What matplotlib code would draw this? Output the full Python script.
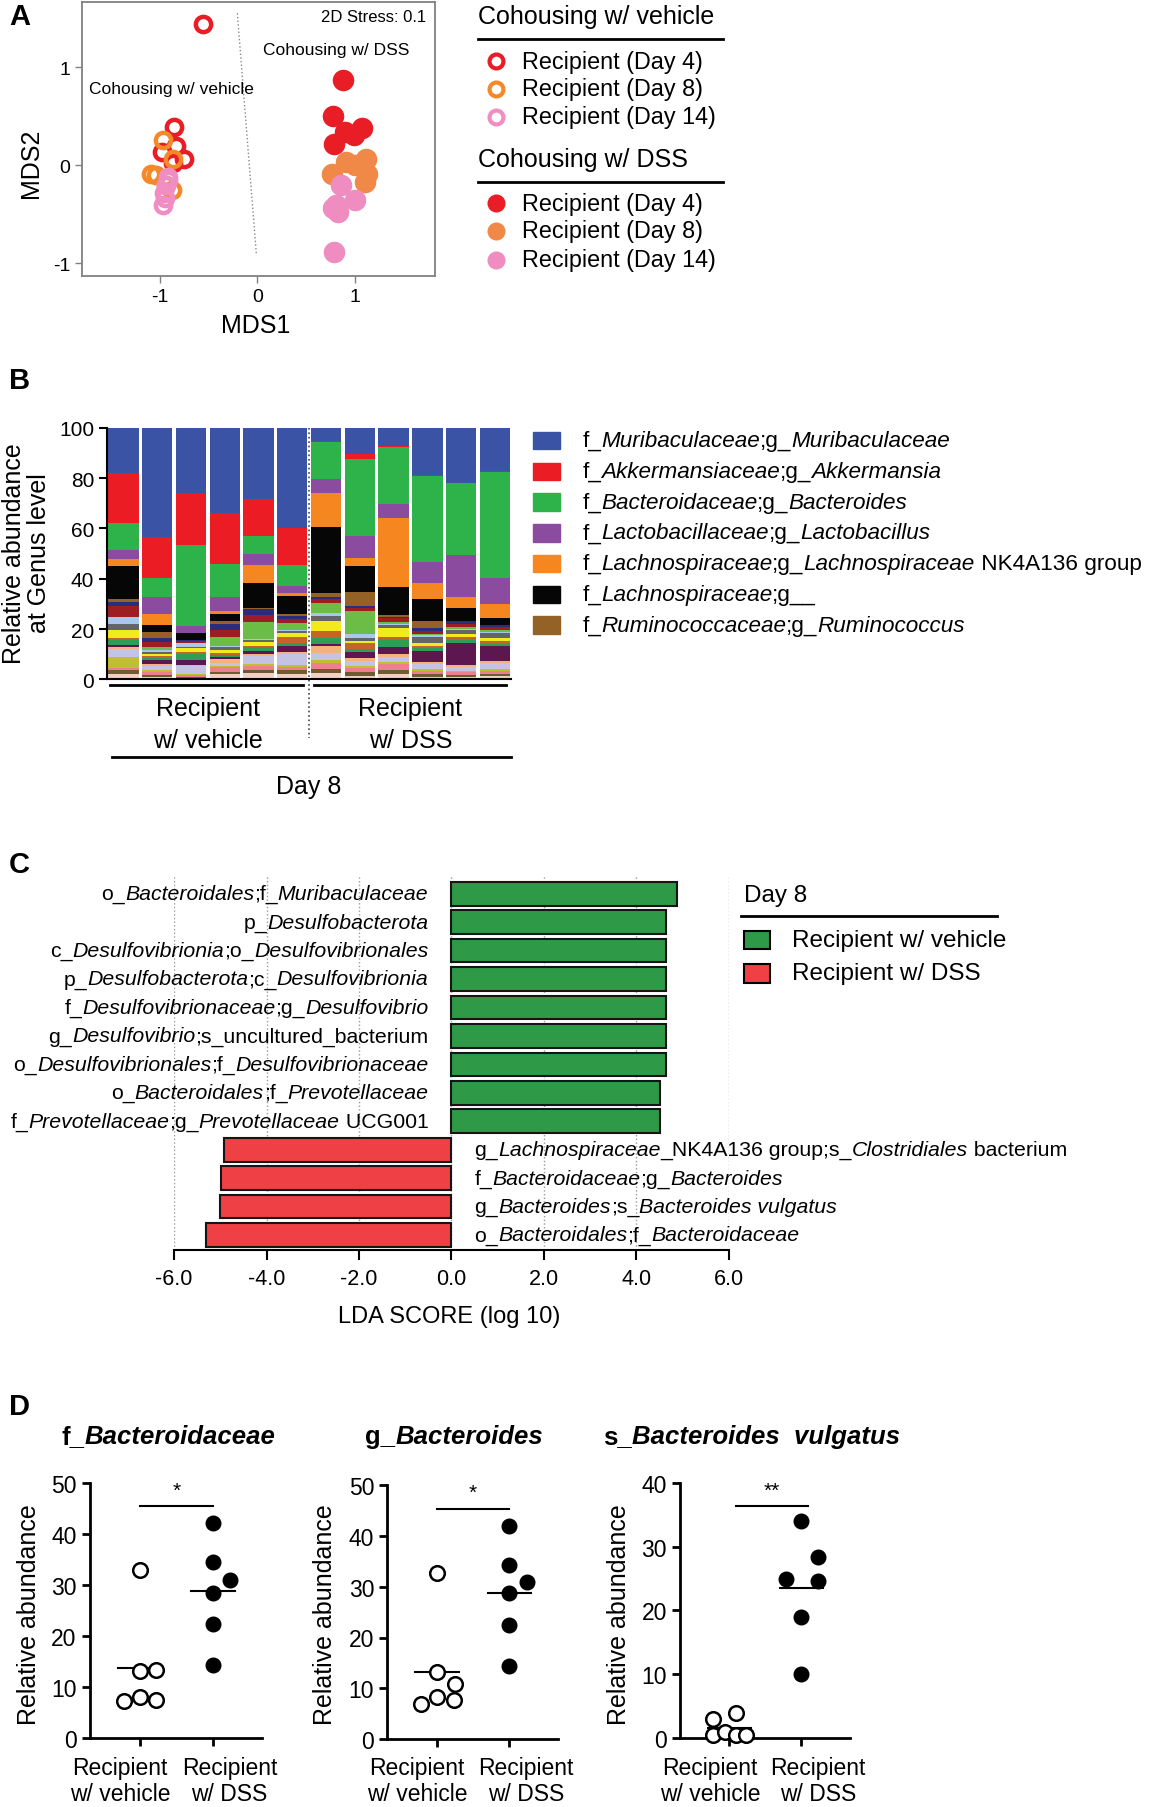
import numpy as np
import matplotlib
matplotlib.use('Agg')
import matplotlib.pyplot as plt
from matplotlib.lines import Line2D
from matplotlib.patches import Rectangle
from matplotlib.offsetbox import TextArea, HPacker, AnnotationBbox

plt.rcParams['font.family'] = ['Liberation Sans', 'DejaVu Sans']
plt.rcParams['axes.unicode_minus'] = False

# ---------------- panel A: NMDS ----------------
veh_d4_x = [-0.56, -0.85, -0.83, -0.98, -0.75, -0.86]
veh_d4_y = [1.44, 0.39, 0.19, 0.13, 0.06, 0.02]
veh_d8_x = [-0.97, -0.86, -1.09, -0.88, -0.94, -1.04]
veh_d8_y = [0.26, 0.06, -0.09, -0.25, -0.20, -0.10]
veh_d14_x = [-0.92, -0.94, -0.96, -0.95, -0.97, -0.92]
veh_d14_y = [-0.15, -0.20, -0.29, -0.34, -0.41, -0.12]
dss_d4_x = [0.88, 0.78, 0.90, 1.07, 0.79, 0.99]
dss_d4_y = [0.87, 0.50, 0.34, 0.38, 0.22, 0.31]
dss_d8_x = [0.91, 1.12, 0.77, 1.13, 1.10, 1.00]
dss_d8_y = [0.03, 0.06, -0.09, -0.09, -0.17, 0.00]
dss_d14_x = [0.86, 1.00, 0.78, 0.83, 0.79, 0.81]
dss_d14_y = [-0.20, -0.36, -0.44, -0.48, -0.89, -0.41]
day_labels = ['Recipient (Day 4)', 'Recipient (Day 8)', 'Recipient (Day 14)']

# ---------------- panel B: genus composition ----------------
legend_taxa = ['f_*Muribaculaceae*;g_*Muribaculaceae*',
               'f_*Akkermansiaceae*;g_*Akkermansia*',
               'f_*Bacteroidaceae*;g_*Bacteroides*',
               'f_*Lactobacillaceae*;g_*Lactobacillus*',
               'f_*Lachnospiraceae*;g_*Lachnospiraceae* NK4A136 group',
               'f_*Lachnospiraceae*;g__',
               'f_*Ruminococcaceae*;g_*Ruminococcus*']
muri = [18.1, 43.5, 26.0, 34.0, 28.1, 40.0, 5.0, 10.3, 7.3, 18.7, 22.0, 17.2]
akk = [19.8, 16.1, 20.4, 20.1, 15.0, 14.5, 0.7, 2.0, 0.4, 0.3, 0.0, 0.3]
bact = [10.6, 7.7, 32.5, 13.2, 7.0, 8.4, 14.7, 30.8, 22.6, 34.2, 28.5, 42.1]
lacto = [3.6, 6.8, 2.6, 5.5, 4.4, 2.7, 5.6, 8.6, 5.6, 8.4, 16.8, 10.3]
nk4a136 = [3.0, 4.4, 0.0, 1.3, 7.2, 1.4, 13.3, 3.4, 27.2, 6.6, 4.2, 5.6]
lachno = [12.8, 2.6, 2.7, 2.7, 9.8, 7.1, 26.3, 10.2, 11.4, 8.6, 5.3, 3.0]
rumino = [1.4, 2.4, 0.0, 1.3, 0.7, 0.7, 1.7, 5.5, 0.7, 2.8, 0.2, 0.0]
# remaining low-abundance genera, listed top to bottom
minor = [
    [1.6, 1.6, 0.5, 2.4, 2.1, 1.3, 0.9, 1.0, 0.5, 1.0, 0.9, 0.6],
    [4.4, 2.1, 0.8, 2.6, 2.8, 1.5, 1.4, 0.9, 1.6, 1.3, 1.3, 1.3],
    [0.0, 1.0, 0.0, 3.5, 6.8, 2.6, 3.9, 9.2, 0.6, 0.6, 0.8, 0.6],
    [2.6, 1.0, 1.5, 0.5, 0.6, 0.6, 1.3, 1.6, 0.5, 0.6, 0.4, 0.5],
    [2.4, 0.8, 0.6, 1.3, 0.8, 0.8, 2.2, 1.4, 1.0, 2.4, 1.7, 2.0],
    [3.4, 0.9, 1.6, 1.0, 1.4, 1.5, 3.9, 0.6, 3.9, 1.3, 1.0, 1.3],
    [0.8, 0.6, 0.8, 0.8, 0.6, 2.6, 2.6, 2.6, 1.0, 0.8, 1.3, 1.0],
    [2.0, 0.8, 2.2, 0.8, 1.5, 1.2, 2.4, 0.9, 3.0, 1.0, 1.0, 0.8],
    [0.8, 1.6, 2.0, 1.0, 1.2, 2.4, 1.0, 2.6, 2.6, 4.6, 9.0, 6.0],
    [0.5, 0.9, 0.6, 1.6, 0.7, 0.7, 2.5, 1.0, 1.2, 0.8, 0.6, 0.8],
    [3.5, 1.6, 3.0, 1.2, 3.4, 4.2, 2.8, 2.0, 2.0, 2.0, 1.6, 2.6],
    [4.2, 0.8, 0.3, 0.4, 0.8, 0.8, 1.4, 1.0, 1.0, 0.8, 0.6, 0.6],
    [0.8, 1.0, 0.8, 2.0, 1.5, 1.4, 2.4, 1.6, 2.0, 1.2, 1.0, 1.2],
    [1.5, 0.8, 0.6, 0.8, 1.2, 1.4, 1.5, 1.4, 1.6, 1.0, 0.8, 1.0],
    [2.2, 1.0, 0.5, 2.0, 2.4, 2.2, 2.5, 1.4, 2.3, 1.0, 1.0, 1.2],
]

# ---------------- panel C: LEfSe ----------------
lda_veh_labels = ['o_*Bacteroidales*;f_*Muribaculaceae*',
                  'p_*Desulfobacterota*',
                  'c_*Desulfovibrionia*;o_*Desulfovibrionales*',
                  'p_*Desulfobacterota*;c_*Desulfovibrionia*',
                  'f_*Desulfovibrionaceae*;g_*Desulfovibrio*',
                  'g_*Desulfovibrio*;s_uncultured_bacterium',
                  'o_*Desulfovibrionales*;f_*Desulfovibrionaceae*',
                  'o_*Bacteroidales*;f_*Prevotellaceae*',
                  'f_*Prevotellaceae*;g_*Prevotellaceae* UCG001']
lda_veh = [4.88, 4.64, 4.64, 4.64, 4.64, 4.64, 4.64, 4.52, 4.52]
lda_dss_labels = ['g_*Lachnospiraceae*_NK4A136 group;s_*Clostridiales* bacterium',
                  'f_*Bacteroidaceae*;g_*Bacteroides*',
                  'g_*Bacteroides*;s_*Bacteroides vulgatus*',
                  'o_*Bacteroidales*;f_*Bacteroidaceae*']
lda_dss = [-4.93, -4.99, -5.01, -5.30]

# ---------------- panel D: relative abundance ----------------
d_titles = ['f_*Bacteroidaceae*', 'g_*Bacteroides*', 's_*Bacteroides  vulgatus*']
d_veh = [[32.9, 13.2, 13.4, 7.2, 8.1, 7.5],
         [32.7, 13.2, 10.8, 8.3, 6.9, 7.6],
         [3.9, 3.0, 0.4, 0.9, 0.5, 0.4]]
d_dss = [[42.2, 34.4, 30.9, 28.4, 22.3, 14.3],
         [42.0, 34.3, 31.0, 28.7, 22.5, 14.3],
         [34.1, 28.4, 24.9, 24.6, 18.9, 10.0]]
d_sig = ['*', '*', '**']
d_ymax = [50, 50, 40]
groups = ['Recipient\nw/ vehicle', 'Recipient\nw/ DSS']

# swarm offsets (layout only)
veh_off = [[0, 0, 0.23, -0.22, 0, 0.23],
           [0, 0, 0.25, 0, -0.22, 0.24],
           [0.09, -0.22, -0.22, -0.06, 0.09, 0.23]]
dss_off = [[0, 0, 0.23, 0, 0, 0],
           [0, 0, 0.24, 0, 0, 0],
           [0, 0.23, -0.22, 0.23, 0, 0]]

W, H = 1000.0, 1568.0


def rect(l, t, r, b):
    return [l / W, 1 - b / H, (r - l) / W, (b - t) / H]


def fx(x):
    return x / W


def fy(y):
    return 1 - y / H


def rich(ax, x, y, s, size, ha='left', bold=False, coords='data'):
    kids = []
    for k, p in enumerate(s.split('*')):
        if not p:
            continue
        props = dict(fontsize=size, color='black',
                     fontstyle='italic' if k % 2 else 'normal',
                     fontweight='bold' if bold else 'normal')
        kids.append(TextArea(p, textprops=props))
    box = HPacker(children=kids, align='baseline', pad=0, sep=0)
    bx = {'left': 0.0, 'center': 0.5, 'right': 1.0}[ha]
    ab = AnnotationBbox(box, (x, y), xycoords=coords, box_alignment=(bx, 0.5),
                        frameon=False, pad=0, annotation_clip=False)
    ax.add_artist(ab)


def fline(x0, x1, y, lw=2.0):
    fig.add_artist(Line2D([fx(x0), fx(x1)], [fy(y), fy(y)], color='black',
                          lw=lw, transform=fig.transFigure))


fig = plt.figure(figsize=(11.53, 18.08), dpi=100)

for lab, yy in zip('ABCD', [15, 330, 750, 1220]):
    fig.text(fx(8), fy(yy), lab, fontsize=21, fontweight='bold', ha='left', va='center')

# ---- A ----
axA = fig.add_axes(rect(71, 3, 377, 240))
cols_open = ['#E91D25', '#F5892A', '#F08DC3']
cols_fill = ['#E91D25', '#F08848', '#EF8CC0']
axA.plot([-0.205, -0.01], [1.55, -0.905], ls=':', color='#888888', lw=1)
for xs, ys, c in zip([veh_d4_x, veh_d8_x, veh_d14_x], [veh_d4_y, veh_d8_y, veh_d14_y], cols_open):
    axA.plot(xs, ys, 'o', ls='none', ms=11, mfc='none', mec=c, mew=3.2)
for xs, ys, c in zip([dss_d4_x, dss_d8_x, dss_d14_x], [dss_d4_y, dss_d8_y, dss_d14_y], cols_fill):
    axA.plot(xs, ys, 'o', ls='none', ms=15.5, color=c, mew=0)
axA.set_xlim(-1.8, 1.82)
axA.set_ylim(-1.13, 1.66)
axA.set_xticks([-1, 0, 1])
axA.set_yticks([-1, 0, 1])
for sp in axA.spines.values():
    sp.set_color('#808080')
    sp.set_linewidth(1.3)
axA.tick_params(length=5, width=1, color='#808080', labelsize=14)
axA.text(0.977, 0.95, '2D Stress: 0.1', transform=axA.transAxes, ha='right', va='center', fontsize=12)
axA.text(0.722, 0.827, 'Cohousing w/ DSS', transform=axA.transAxes, ha='center', va='center', fontsize=12.5)
axA.text(0.255, 0.684, 'Cohousing w/ vehicle', transform=axA.transAxes, ha='center', va='center', fontsize=12.5)
fig.text(fx(222), fy(283), 'MDS1', fontsize=18, ha='center', va='center')
fig.text(fx(27), fy(142), 'MDS2', fontsize=18, ha='center', va='center', rotation=90)

# legend A
for hdr_y, ys, filled in [(15, [54, 78, 102], False), (139, [177, 201, 226], True)]:
    fig.text(fx(415), fy(hdr_y), 'Cohousing w/ vehicle' if not filled else 'Cohousing w/ DSS',
             fontsize=18, ha='left', va='center')
    fline(415, 627, hdr_y + 20)
    for k, yy in enumerate(ys):
        if filled:
            m = Line2D([fx(430)], [fy(yy)], marker='o', ms=13, color=cols_fill[k], mew=0,
                       transform=fig.transFigure)
        else:
            m = Line2D([fx(430)], [fy(yy)], marker='o', ms=10, mfc='none', mec=cols_open[k],
                       mew=3, transform=fig.transFigure)
        fig.add_artist(m)
        fig.text(fx(453), fy(yy), day_labels[k], fontsize=16.8, ha='left', va='center')

# ---- B ----
axB = fig.add_axes(rect(93, 372, 443, 590))
main_cols = ['#3A53A4', '#EC1C24', '#2EB34A', '#8B4B9E', '#F6861F', '#060606', '#946227']
minor_cols = ['#2A2C7E', '#9C1E24', '#6CBD45', '#A8C7EA', '#646567', '#F2EA1B', '#C5632C',
              '#2E9D55', '#5C1650', '#F4B27F', '#C5C3E3', '#BFBF2F', '#EE7F8F', '#6E5B2F', '#F3CFC6']
xb = np.arange(len(muri))
bottom = np.zeros(len(muri))
for vals, c in zip(minor[::-1], minor_cols[::-1]):
    axB.bar(xb, vals, 0.9, bottom=bottom, color=c, lw=0)
    bottom += np.array(vals)
for vals, c in zip([rumino, lachno, nk4a136, lacto, bact, akk, muri], main_cols[::-1]):
    axB.bar(xb, vals, 0.9, bottom=bottom, color=c, lw=0)
    bottom += np.array(vals)
axB.set_xlim(-0.48, 11.47)
axB.set_ylim(0, 100)
axB.set_yticks([0, 20, 40, 60, 80, 100])
axB.set_xticks([])
for s in ['top', 'right']:
    axB.spines[s].set_visible(False)
axB.spines['left'].set_linewidth(1.5)
axB.spines['bottom'].set_linewidth(1.5)
axB.tick_params(axis='y', length=6, width=1.5, labelsize=15)
axB.plot([5.5, 5.5], [100, -23.4], ls=':', color='#444444', lw=1.2, clip_on=False)
axB.plot([-0.41, 5.31], [-2.2, -2.2], color='black', lw=2, clip_on=False)
axB.plot([5.64, 11.34], [-2.2, -2.2], color='black', lw=2, clip_on=False)
axB.plot([-0.35, 11.47], [-30.9, -30.9], color='black', lw=2, clip_on=False)
for cx, g in zip([2.5, 8.5], groups):
    l1, l2 = g.split('\n')
    axB.text(cx, -11.5, l1, ha='center', va='center', fontsize=18, clip_on=False)
    axB.text(cx, -24.0, l2, ha='center', va='center', fontsize=18, clip_on=False)
axB.text(5.5, -42.5, 'Day 8', ha='center', va='center', fontsize=18, clip_on=False)
fig.text(fx(23), fy(480), 'Relative abundance\nat Genus level', fontsize=18, ha='center',
         va='center', rotation=90, linespacing=1.05)
for k, (name, c) in enumerate(zip(legend_taxa, main_cols)):
    yy = 383 + k * 26.67
    fig.add_artist(Rectangle((fx(462), fy(yy + 7.5)), (486 - 462) / W, 15 / H, color=c,
                             transform=fig.transFigure))
    rich(axB, fx(505), fy(yy), name, 16.2, ha='left', coords='figure fraction')

# ---- C ----
axC = fig.add_axes(rect(151, 760, 632, 1085))
for gx in range(-6, 7, 2):
    axC.axvline(gx, color='#9a9a9a', ls=':', lw=1, zorder=0)
yv = np.arange(len(lda_veh))
yd = np.arange(len(lda_veh), len(lda_veh) + len(lda_dss))
axC.barh(yv, lda_veh, height=0.83, color='#2E9A48', edgecolor='#151515', lw=1.5, zorder=2)
axC.barh(yd, lda_dss, height=0.83, color='#EF4045', edgecolor='#151515', lw=1.5, zorder=2)
for y, s in zip(yv, lda_veh_labels):
    rich(axC, -0.5, y, s, 15.3, ha='right')
for y, s in zip(yd, lda_dss_labels):
    rich(axC, 0.5, y, s, 15.3, ha='left')
axC.set_xlim(-6, 6)
axC.set_ylim(12.53, -0.65)
axC.set_yticks([])
axC.set_xticks(range(-6, 7, 2))
axC.set_xticklabels(['%.1f' % v for v in range(-6, 7, 2)])
for s in ['top', 'right', 'left']:
    axC.spines[s].set_visible(False)
axC.spines['bottom'].set_linewidth(1.5)
axC.tick_params(axis='x', length=7, width=1.5, labelsize=15.5, pad=6)
fig.text(fx(390), fy(1142), 'LDA SCORE (log 10)', fontsize=17, ha='center', va='center')
fig.text(fx(645), fy(777), 'Day 8', fontsize=17.5, ha='left', va='center')
fline(643, 865, 795)
for yy, c, lab in [(816, '#2E9A48', 'Recipient w/ vehicle'), (845, '#EF4045', 'Recipient w/ DSS')]:
    fig.add_artist(Rectangle((fx(645), fy(yy + 8)), 23 / W, 16 / H, facecolor=c,
                             edgecolor='black', lw=1.5, transform=fig.transFigure))
    fig.text(fx(687), fy(yy), lab, fontsize=17.5, ha='left', va='center')

# ---- D ----
d_rects = [(78, 1287, 227, 1508), (336, 1289, 484, 1509), (590, 1287, 737, 1508)]
d_title_x = [146, 394, 652]
d_ylab_x = [25, 282, 537]
sig_span = [(0, 1), (0, 1), (0.09, 1.09)]
for k in range(3):
    ax = fig.add_axes(rect(*d_rects[k]))
    vv = np.array(d_veh[k])
    dd = np.array(d_dss[k])
    ax.plot([-0.3, 0.3], [vv.mean()] * 2, color='black', lw=1.5, zorder=1, clip_on=False)
    ax.plot([0.7, 1.3], [dd.mean()] * 2, color='black', lw=1.5, zorder=1, clip_on=False)
    ax.plot(0 + np.array(veh_off[k]), vv, 'o', ls='none', ms=10.5, mfc='white', mec='black',
            mew=1.8, zorder=3, clip_on=False)
    ax.plot(1 + np.array(dss_off[k]), dd, 'o', ls='none', ms=10.5, color='black', zorder=3,
            clip_on=False)
    ymax = d_ymax[k]
    s0, s1 = sig_span[k]
    ax.plot([s0, s1], [0.908 * ymax] * 2, color='black', lw=1.5, clip_on=False)
    ax.text((s0 + s1) / 2, 0.935 * ymax, d_sig[k], ha='center', va='bottom', fontsize=15)
    ax.set_xlim(-0.68, 1.67)
    ax.set_ylim(0, ymax)
    ax.set_yticks(range(0, ymax + 1, 10))
    ax.set_xticks([0, 1])
    ax.set_xticklabels(['', ''])
    for s in ['top', 'right']:
        ax.spines[s].set_visible(False)
    ax.spines['left'].set_linewidth(2)
    ax.spines['bottom'].set_linewidth(2)
    ax.tick_params(length=6, width=2, labelsize=16.5)
    ybot = d_rects[k][3]
    yh = d_rects[k][3] - d_rects[k][1]
    for cx, g in zip([-0.27, 1.23], groups):
        l1, l2 = g.split('\n')
        ax.text(cx, -(1534 - ybot) / yh, l1, transform=ax.get_xaxis_transform(),
                ha='center', va='center', fontsize=16.5)
        ax.text(cx, -(1556 - ybot) / yh, l2, transform=ax.get_xaxis_transform(),
                ha='center', va='center', fontsize=16.5)
    rich(ax, fx(d_title_x[k]), fy(1246), d_titles[k], 18.5, ha='center', bold=True,
         coords='figure fraction')
    fig.text(fx(d_ylab_x[k]), fy(1400), 'Relative abundance', fontsize=18, ha='center',
             va='center', rotation=90)

fig.savefig('out.png', dpi=100)
